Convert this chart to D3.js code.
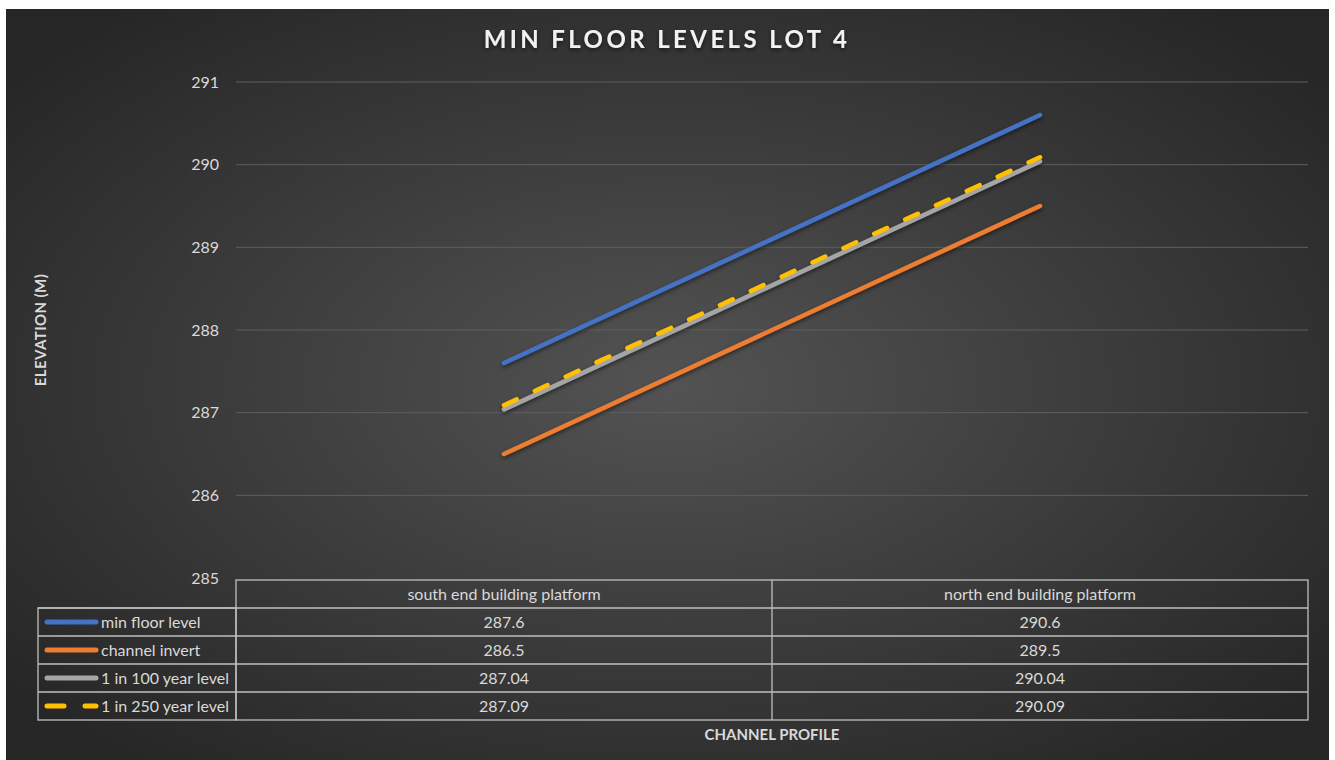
<!DOCTYPE html>
<html>
<head>
<meta charset="utf-8">
<script src="https://cdnjs.cloudflare.com/ajax/libs/d3/7.8.5/d3.min.js"></script>
<style>
  html, body { margin: 0; padding: 0; background: #fff; }
  svg { display: block; font-family: Lato, "Open Sans", sans-serif; }
</style>
</head>
<body>
<svg id="chart"></svg>
<script>
// data
const categories = ["south end building platform", "north end building platform"];
const seriesNames = ["min floor level", "channel invert", "1 in 100 year level", "1 in 250 year level"];
const minFloor = [287.6, 290.6];
const channelInvert = [286.5, 289.5];
const level100 = [287.04, 290.04];
const level250 = [287.09, 290.09];
const yTicks = [285, 286, 287, 288, 289, 290, 291];

const seriesColors = ["#4472C4", "#ED7D31", "#A5A5A5", "#FFC000"];
const seriesValues = [minFloor, channelInvert, level100, level250];

const W = 1335, H = 760;
const svg = d3.select("#chart").attr("width", W).attr("height", H);

// background gradient
const defs = svg.append("defs");
const grad = defs.append("radialGradient").attr("id", "bg")
  .attr("cx", "50%").attr("cy", "50%").attr("r", "65%");
grad.append("stop").attr("offset", "0%").attr("stop-color", "#535353");
grad.append("stop").attr("offset", "100%").attr("stop-color", "#262626");

const shadow = defs.append("filter").attr("id", "shadow")
  .attr("x", "-10%").attr("y", "-10%").attr("width", "120%").attr("height", "130%");
shadow.append("feDropShadow").attr("dx", 0).attr("dy", 2).attr("stdDeviation", 2)
  .attr("flood-color", "#000").attr("flood-opacity", 0.55);

svg.append("rect").attr("x", 6).attr("y", 9).attr("width", 1323).attr("height", 751)
  .attr("fill", "url(#bg)");

// plot area
const plot = { left: 236, right: 1308, top: 82, bottom: 578 };

const x = d3.scaleBand().domain(categories).range([plot.left, plot.right]);
const y = d3.scaleLinear().domain([285, 291]).range([plot.bottom, plot.top]);

const textCol = "#d9d9d9";

// title
svg.append("text")
  .attr("x", 667).attr("y", 48)
  .attr("text-anchor", "middle")
  .attr("fill", "#f2f2f2")
  .attr("font-size", 24).attr("font-weight", "bold")
  .attr("letter-spacing", 3.4)
  .attr("filter", "url(#shadow)")
  .text("MIN FLOOR LEVELS LOT 4");

// grid
svg.append("g").selectAll("line")
  .data(yTicks.filter(t => t > 285))
  .join("line")
  .attr("x1", plot.left).attr("x2", plot.right)
  .attr("y1", d => y(d)).attr("y2", d => y(d))
  .attr("stroke", "#5e5e5e").attr("stroke-width", 1);

// y axis labels
const yAxis = d3.axisLeft(y).tickValues(yTicks).tickFormat(d3.format("d"))
  .tickSize(0).tickPadding(17);
const yg = svg.append("g").attr("transform", `translate(${plot.left},0)`).call(yAxis);
yg.select(".domain").remove();
yg.selectAll("text").attr("fill", textCol).attr("font-size", 16)
  .attr("font-family", "Lato, sans-serif");

svg.append("text")
  .attr("transform", `translate(46,${(plot.top + plot.bottom) / 2}) rotate(-90)`)
  .attr("text-anchor", "middle")
  .attr("fill", textCol).attr("font-size", 15).attr("font-weight", "bold")
  .attr("letter-spacing", 0.4)
  .text("ELEVATION (M)");

// lines
const line = d3.line()
  .x((d, i) => x(categories[i]) + x.bandwidth() / 2)
  .y(d => y(d));

svg.append("g").attr("filter", "url(#shadow)")
  .selectAll("path")
  .data(seriesValues)
  .join("path")
  .attr("d", d => line(d))
  .attr("fill", "none")
  .attr("stroke", (d, i) => seriesColors[i])
  .attr("stroke-width", 4.5)
  .attr("stroke-linecap", "round")
  .attr("stroke-dasharray", (d, i) => i === 3 ? "14 20" : null);

// data table
const rowH = 28;
const tableTop = 580;
const legendLeft = 38;
const tbl = svg.append("g");
const lineCol = "#bfbfbf";

tbl.append("rect").attr("x", plot.left).attr("y", tableTop)
  .attr("width", plot.right - plot.left).attr("height", rowH * 5)
  .attr("fill", "none").attr("stroke", lineCol).attr("stroke-width", 1.3);
tbl.append("rect").attr("x", legendLeft).attr("y", tableTop + rowH)
  .attr("width", plot.left - legendLeft).attr("height", rowH * 4)
  .attr("fill", "none").attr("stroke", lineCol).attr("stroke-width", 1.3);
tbl.selectAll("line.h")
  .data(d3.range(1, 5))
  .join("line")
  .attr("x1", legendLeft).attr("x2", plot.right)
  .attr("y1", d => tableTop + d * rowH).attr("y2", d => tableTop + d * rowH)
  .attr("stroke", lineCol).attr("stroke-width", 1.3);
tbl.append("line")
  .attr("x1", x(categories[1])).attr("x2", x(categories[1]))
  .attr("y1", tableTop).attr("y2", tableTop + rowH * 5)
  .attr("stroke", lineCol).attr("stroke-width", 1.3);

tbl.selectAll("text.cat")
  .data(categories)
  .join("text")
  .attr("x", d => x(d) + x.bandwidth() / 2)
  .attr("y", tableTop + rowH / 2 + 5.5)
  .attr("text-anchor", "middle")
  .attr("fill", textCol).attr("font-size", 16)
  .text(d => d);

seriesValues.forEach((vals, si) => {
  const ry = tableTop + (si + 1) * rowH;
  tbl.selectAll(null)
    .data(vals)
    .join("text")
    .attr("x", (d, i) => x(categories[i]) + x.bandwidth() / 2)
    .attr("y", ry + rowH / 2 + 5.5)
    .attr("text-anchor", "middle")
    .attr("fill", textCol).attr("font-size", 16)
    .text(d => d);

  // legend key
  tbl.append("line")
    .attr("x1", 47).attr("x2", 96)
    .attr("y1", ry + rowH / 2).attr("y2", ry + rowH / 2)
    .attr("stroke", seriesColors[si]).attr("stroke-width", 5)
    .attr("stroke-linecap", "round")
    .attr("stroke-dasharray", si === 3 ? "17 21" : null);
  tbl.append("text")
    .attr("x", 101).attr("y", ry + rowH / 2 + 5.5)
    .attr("fill", textCol).attr("font-size", 16)
    .text(seriesNames[si]);
});

svg.append("text")
  .attr("x", (plot.left + plot.right) / 2).attr("y", 740)
  .attr("text-anchor", "middle")
  .attr("fill", textCol).attr("font-size", 15).attr("font-weight", "bold")
  .text("CHANNEL PROFILE");
</script>
</body>
</html>
